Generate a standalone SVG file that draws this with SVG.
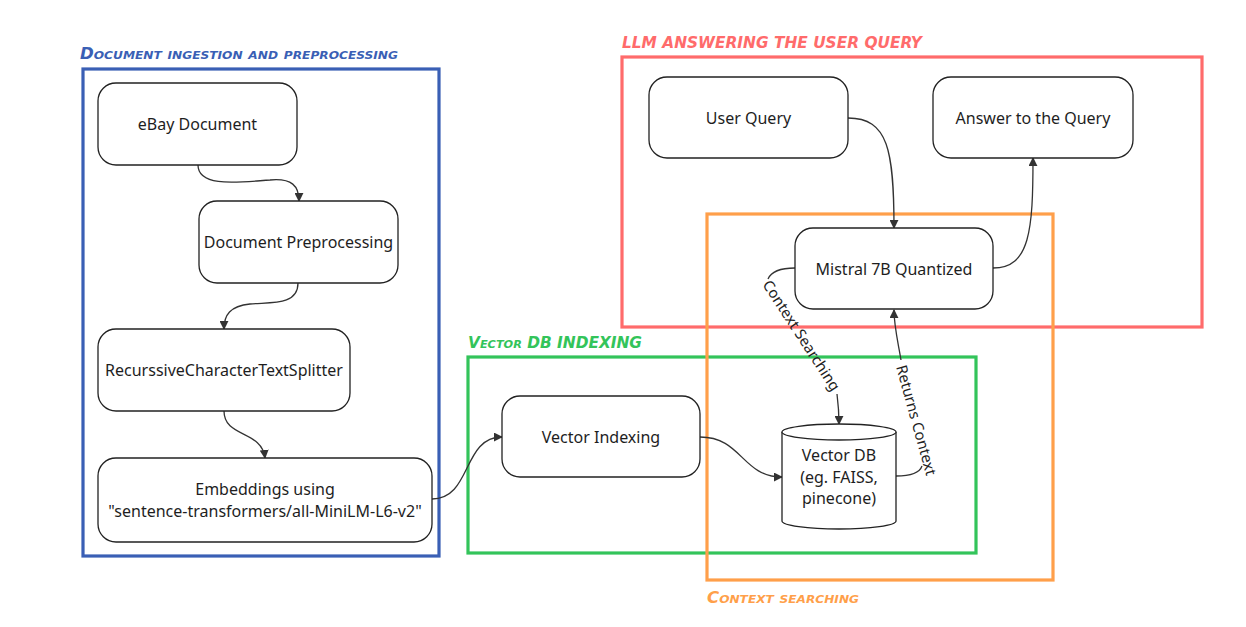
<svg xmlns="http://www.w3.org/2000/svg" width="1246" height="627" viewBox="0 0 1246 627">
<defs>
<marker id="arr" viewBox="0 0 10 10" refX="9" refY="5" markerWidth="9" markerHeight="9" markerUnits="userSpaceOnUse" orient="auto">
<path d="M0,0 L10,5 L0,10 Z" fill="#333"/>
</marker>
</defs>
<style>
.node{fill:#fff;stroke:#222;stroke-width:1.3}
.lbl{font-family:"Noto Sans","Open Sans",sans-serif;font-size:16px;fill:#1e1e1e;text-anchor:middle;dominant-baseline:central}
.edge{fill:none;stroke:#333;stroke-width:1.3}
.elbl{font-family:"Noto Sans","Open Sans",sans-serif;font-size:15px;fill:#1e1e1e;text-anchor:middle;dominant-baseline:central}
.frame{fill:none;stroke-width:3.2}
.ttl{font-family:"DejaVu Sans",sans-serif;font-weight:bold;font-style:oblique;font-variant:small-caps;font-size:15px}
</style>
<rect width="1246" height="627" fill="#fff"/>
<g id="frames">
<rect class="frame" x="83" y="69" width="356" height="487" stroke="#3a5fb5"/>
<text class="ttl" x="80" y="59" fill="#3a5fb5" textLength="318" lengthAdjust="spacingAndGlyphs">Document ingestion and preprocessing</text>
<rect class="frame" x="622" y="57" width="580" height="270" stroke="#ff6b6b"/>
<text class="ttl" x="622" y="48" fill="#ff6b6b" textLength="300" lengthAdjust="spacingAndGlyphs">LLM ANSWERING THE USER QUERY</text>
<rect class="frame" x="468" y="357" width="508" height="196" stroke="#33c45a"/>
<text class="ttl" x="468" y="348" fill="#33c45a" textLength="174" lengthAdjust="spacingAndGlyphs">Vector DB INDEXING</text>
<rect class="frame" x="707" y="214" width="346" height="366" stroke="#ff9f4a"/>
<text class="ttl" x="707" y="603" fill="#ff9f4a" textLength="152" lengthAdjust="spacingAndGlyphs">Context searching</text>
</g>
<g id="connectors">
<path class="edge" d="M198,165 C198,188 240,182 270,180 C292,178 299,186 299,201" marker-end="url(#arr)"/>
<path class="edge" d="M298,283 C298,306 270,302 250,304 C230,306 224,315 224,329" marker-end="url(#arr)"/>
<path class="edge" d="M224,411 C224,438 262,430 265,458" marker-end="url(#arr)"/>
<path class="edge" d="M432,499 C472,499 462,437 502,437" marker-end="url(#arr)"/>
<path class="edge" d="M700,437 C742,437 742,477 782,477" marker-end="url(#arr)"/>
<path class="edge" d="M848,118 C888,118 894,150 894,228" marker-end="url(#arr)"/>
<path class="edge" d="M993,268 C1030,268 1033,230 1033,158" marker-end="url(#arr)"/>
<path class="edge" d="M795,268 C780,268 771,272 768,279"/>
<text class="elbl" transform="translate(802,335) rotate(57)">Context Searching</text>
<path class="edge" d="M837,394 C838,402 839,410 839,424" marker-end="url(#arr)"/>
<path class="edge" d="M896,476 C912,476 920,472 922,466"/>
<text class="elbl" transform="translate(917,420) rotate(74.5)">Returns Context</text>
<path class="edge" d="M901,360 C898,342 894,326 894,310" marker-end="url(#arr)"/>
</g>
<g id="ebay-document">
<rect class="node" x="98" y="83" width="199" height="82" rx="18"/>
<text class="lbl" x="197.5" y="124">eBay Document</text>
</g>
<g id="document-preprocessing">
<rect class="node" x="199" y="201" width="199" height="82" rx="18"/>
<text class="lbl" x="298.5" y="242">Document Preprocessing</text>
</g>
<g id="text-splitter">
<rect class="node" x="98" y="329" width="252" height="82" rx="18"/>
<text class="lbl" x="224" y="370">RecurssiveCharacterTextSplitter</text>
</g>
<g id="embeddings">
<rect class="node" x="98" y="458" width="334" height="84" rx="18"/>
<text class="lbl" x="265" y="489">Embeddings using</text>
<text class="lbl" x="265" y="511">"sentence-transformers/all-MiniLM-L6-v2"</text>
</g>
<g id="vector-indexing">
<rect class="node" x="502" y="396" width="198" height="81" rx="18"/>
<text class="lbl" x="601" y="436.5">Vector Indexing</text>
</g>
<g id="vector-db">
<path class="node" d="M782,432 L782,521 A57,8 0 0 0 896,521 L896,432"/>
<ellipse class="node" cx="839" cy="432" rx="57" ry="8"/>
<text class="lbl" x="839" y="455">Vector DB</text>
<text class="lbl" x="839" y="477">(eg. FAISS,</text>
<text class="lbl" x="839" y="498">pinecone)</text>
</g>
<g id="user-query">
<rect class="node" x="649" y="77" width="199" height="81" rx="18"/>
<text class="lbl" x="748.5" y="117.5">User Query</text>
</g>
<g id="answer">
<rect class="node" x="933" y="77" width="200" height="81" rx="18"/>
<text class="lbl" x="1033" y="117.5">Answer to the Query</text>
</g>
<g id="mistral">
<rect class="node" x="795" y="228" width="198" height="81" rx="18"/>
<text class="lbl" x="894" y="268.5">Mistral 7B Quantized</text>
</g>
</svg>
